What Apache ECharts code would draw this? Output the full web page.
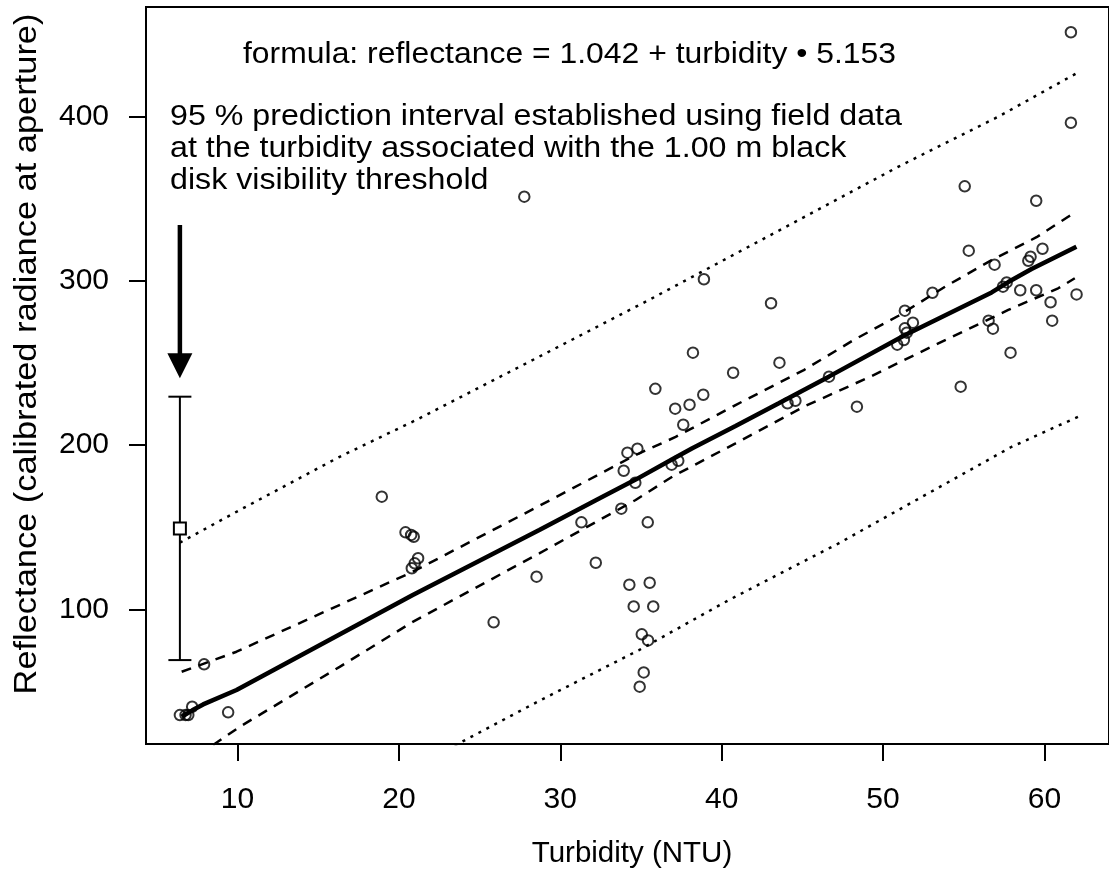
<!DOCTYPE html>
<html>
<head>
<meta charset="utf-8">
<script src="https://cdn.jsdelivr.net/npm/echarts@6/dist/echarts.min.js"></script>
<style>
  html, body { margin: 0; padding: 0; background: #fff; }
  #chart { width: 1109px; height: 892px; }
</style>
</head>
<body>
<div id="chart"></div>
<script>
// Axis ticks
const xTicks = [10, 20, 30, 40, 50, 60];
const yTicks = [100, 200, 300, 400];

// Field samples: [turbidity (NTU), reflectance]
const samples = [
  [6.43, 35.6], [6.78, 35.6], [6.95, 35.6], [7.19, 40.7], [7.93, 66.5], [9.42, 37.3],
  [18.94, 168.6], [20.41, 146.9], [20.76, 145.3], [20.92, 144.2], [21.19, 131.1], [20.98, 128.0], [20.80, 125.0],
  [25.87, 92.1], [27.77, 351.3], [28.53, 119.9],
  [31.31, 153.0], [32.20, 128.4], [33.78, 161.3], [33.93, 184.4], [34.16, 195.4], [34.28, 115.0],
  [34.55, 101.8], [34.65, 177.1], [34.78, 197.8], [34.92, 52.9], [35.05, 84.8], [35.17, 61.6],
  [35.42, 153.0], [35.44, 81.1], [35.54, 116.2], [35.76, 101.8], [35.89, 234.3],
  [36.90, 188.1], [37.12, 222.2], [37.31, 190.5], [37.62, 212.4], [38.01, 224.6], [38.22, 256.3],
  [38.86, 230.7], [38.90, 301.0], [40.71, 244.1], [43.06, 286.4], [43.58, 250.2], [44.08, 225.5],
  [44.57, 227.0], [46.65, 241.7], [48.38, 223.4],
  [50.88, 261.2], [51.29, 264.0], [51.47, 268.5], [51.35, 271.1], [51.35, 281.9], [51.85, 274.5],
  [53.06, 292.8], [54.81, 235.6], [55.06, 357.6], [55.31, 318.4], [56.54, 275.8], [56.81, 270.9],
  [56.91, 309.9], [57.43, 296.5], [57.66, 299.1], [57.90, 256.3], [58.50, 294.3], [59.00, 312.3],
  [59.14, 314.7], [59.49, 294.3], [59.49, 348.8], [59.88, 319.6], [60.38, 287.0], [60.48, 275.8],
  [61.64, 396.3], [61.64, 451.4], [61.99, 291.8]
];

// Fitted relationship
const fitLine = [
  [6.54, 34.6], [7.20, 38.5], [7.87, 42.1], [9.94, 50.9], [20.86, 108.7], [28.70, 148.3],
  [32.41, 167.5], [34.67, 179.0], [36.94, 191.4], [38.18, 198.1], [40.86, 211.6], [43.54, 225.5],
  [46.64, 241.7], [51.37, 267.1], [56.73, 293.0], [57.76, 299.3], [59.20, 307.2], [61.98, 320.8]
];

// Confidence band (dashed)
const ciUpper = [
  [6.54, 62.0], [9.94, 74.2], [20.86, 122.9], [28.70, 163.0], [34.67, 194.0], [37.15, 205.0],
  [40.86, 224.4], [45.09, 245.7], [48.18, 264.0], [50.96, 278.8], [53.85, 296.5], [56.73, 312.7],
  [59.51, 326.6], [61.47, 339.1], [61.88, 341.5]
];
const ciLower = [
  [8.49, 17.4], [10.14, 28.5], [16.33, 65.0], [20.86, 92.4], [28.70, 134.1], [34.67, 166.6],
  [36.94, 180.8], [40.86, 201.1], [45.09, 223.4], [49.21, 241.7], [53.85, 264.0], [57.76, 282.3],
  [60.85, 295.5], [61.88, 301.6]
];

// Prediction band (dotted)
const piUpper = [
  [6.43, 140.6], [10.14, 160.5], [16.33, 192.9], [21.07, 215.3], [28.70, 253.9], [35.50, 288.4],
  [44.77, 337.1], [50.96, 369.6], [53.00, 379.7], [57.14, 400.0], [61.98, 426.4]
];
const piLower = [
  [23.45, 17.0], [28.70, 44.3], [34.88, 75.2], [40.45, 105.7], [47.25, 140.2], [57.97, 199.0], [62.09, 217.3]
];

// Interval at the 1.00 m black disk threshold: [turbidity, low, mid, high]
const thresholdInterval = [[6.43, 69.1, 149.3, 229.5]];
// Pointer arrow: [turbidity, start, tip]
const pointerArrow = [[6.43, 334.0, 240.7]];

const FONT = "'Liberation Sans', Arial, Helvetica, sans-serif";

const chart = echarts.init(document.getElementById('chart'), null, { renderer: 'canvas' });

const option = {
  animation: false,
  backgroundColor: '#fff',
  grid: {
    left: 146, right: -2, top: 7, bottom: 148,
    show: true, borderColor: '#000', borderWidth: 2, backgroundColor: 'transparent'
  },
  xAxis: {
    type: 'value', min: 4.33, max: 64,
    axisLine: { show: true, lineStyle: { color: '#000', width: 2 } },
    axisTick: { show: true, customValues: xTicks, length: 17, lineStyle: { color: '#000', width: 2 } },
    axisLabel: { customValues: xTicks, fontSize: 30, color: '#000', margin: 41, fontFamily: FONT },
    splitLine: { show: false }
  },
  yAxis: {
    type: 'value', min: 18, max: 466.8,
    axisLine: { show: true, lineStyle: { color: '#000', width: 2 } },
    axisTick: { show: true, customValues: yTicks, length: 17, lineStyle: { color: '#000', width: 2 } },
    axisLabel: { customValues: yTicks, fontSize: 30, color: '#000', margin: 37, fontFamily: FONT },
    splitLine: { show: false }
  },
  graphic: [
    {
      type: 'text', x: 243, y: 55, scaleX: 1.10,
      style: { text: 'formula: reflectance = 1.042 + turbidity \u2022 5.153', font: '29px ' + FONT,
               fill: '#000', textAlign: 'left', textVerticalAlign: 'middle' }
    },
    {
      type: 'text', x: 170, y: 117, scaleX: 1.11,
      style: { text: '95 % prediction interval established using field data', font: '29px ' + FONT,
               fill: '#000', textAlign: 'left', textVerticalAlign: 'middle' }
    },
    {
      type: 'text', x: 170, y: 149, scaleX: 1.11,
      style: { text: 'at the turbidity associated with the 1.00 m black', font: '29px ' + FONT,
               fill: '#000', textAlign: 'left', textVerticalAlign: 'middle' }
    },
    {
      type: 'text', x: 170, y: 181, scaleX: 1.11,
      style: { text: 'disk visibility threshold', font: '29px ' + FONT,
               fill: '#000', textAlign: 'left', textVerticalAlign: 'middle' }
    },
    {
      type: 'text', x: 632, y: 854,
      style: { text: 'Turbidity (NTU)', font: '29.5px ' + FONT,
               fill: '#000', textAlign: 'center', textVerticalAlign: 'middle' }
    },
    {
      type: 'text', x: 27, y: 354, rotation: Math.PI / 2, scaleX: 1.11,
      style: { text: 'Reflectance (calibrated radiance at aperture)', font: '31px ' + FONT,
               fill: '#000', textAlign: 'center', textVerticalAlign: 'middle' }
    }
  ],
  series: [
    {
      type: 'line', data: piUpper, showSymbol: false, silent: true,
      lineStyle: { color: '#000', width: 2.5, type: [3, 6] }
    },
    {
      type: 'line', data: piLower, showSymbol: false, silent: true,
      lineStyle: { color: '#000', width: 2.5, type: [3, 6] }
    },
    {
      type: 'line', data: ciUpper, showSymbol: false, silent: true,
      lineStyle: { color: '#000', width: 2.5, type: [10, 8] }
    },
    {
      type: 'line', data: ciLower, showSymbol: false, silent: true,
      lineStyle: { color: '#000', width: 2.5, type: [10, 8] }
    },
    {
      type: 'line', data: fitLine, showSymbol: false, silent: true,
      lineStyle: { color: '#000', width: 4.5 }
    },
    {
      type: 'scatter', data: samples, symbol: 'circle', symbolSize: 10.5, silent: true,
      itemStyle: { color: 'rgba(0,0,0,0)', borderColor: '#000', borderWidth: 2 }
    },
    {
      type: 'custom', data: thresholdInterval, silent: true, clip: false,
      renderItem: function (params, api) {
        const x = api.value(0);
        const lo = api.coord([x, api.value(1)]);
        const mid = api.coord([x, api.value(2)]);
        const hi = api.coord([x, api.value(3)]);
        const cap = 11.5, sq = 12;
        const stroke = { stroke: '#000', lineWidth: 2, fill: null };
        return {
          type: 'group',
          children: [
            { type: 'line', shape: { x1: lo[0], y1: lo[1], x2: hi[0], y2: hi[1] }, style: stroke },
            { type: 'line', shape: { x1: lo[0] - cap, y1: lo[1], x2: lo[0] + cap, y2: lo[1] }, style: stroke },
            { type: 'line', shape: { x1: hi[0] - cap, y1: hi[1], x2: hi[0] + cap, y2: hi[1] }, style: stroke },
            { type: 'rect', shape: { x: mid[0] - sq / 2, y: mid[1] - sq / 2, width: sq, height: sq },
              style: { stroke: '#000', lineWidth: 2, fill: '#fff' } }
          ]
        };
      }
    },
    {
      type: 'custom', data: pointerArrow, silent: true, clip: false,
      renderItem: function (params, api) {
        const x = api.value(0);
        const start = api.coord([x, api.value(1)]);
        const tip = api.coord([x, api.value(2)]);
        const headLen = 25, headHalf = 12.5;
        return {
          type: 'group',
          children: [
            { type: 'line', shape: { x1: start[0], y1: start[1], x2: tip[0], y2: tip[1] - headLen + 2 },
              style: { stroke: '#000', lineWidth: 4.5 } },
            { type: 'polygon',
              shape: { points: [[tip[0] - headHalf, tip[1] - headLen], [tip[0] + headHalf, tip[1] - headLen], [tip[0], tip[1]]] },
              style: { fill: '#000' } }
          ]
        };
      }
    }
  ]
};

chart.setOption(option);
</script>
</body>
</html>
